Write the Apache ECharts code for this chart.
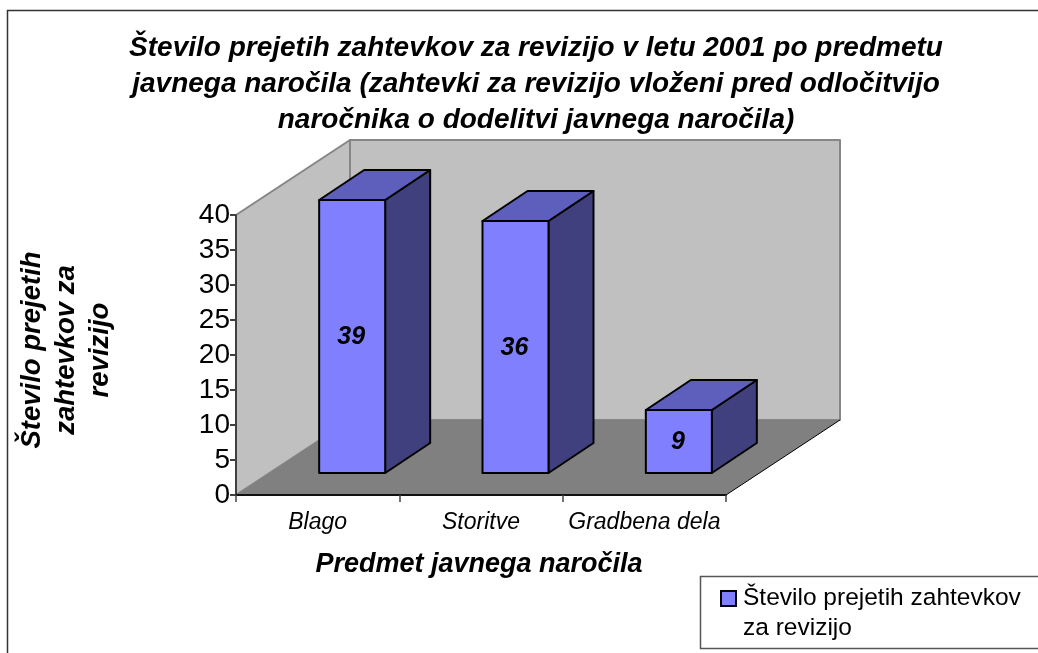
<!DOCTYPE html>
<html><head><meta charset="utf-8">
<style>html,body{margin:0;padding:0;background:#fff}#c{width:1038px;height:653px}</style>
<script src="https://cdn.jsdelivr.net/npm/echarts@6/dist/echarts.min.js"></script>
</head><body><div id="c"></div>
<script>
var categories = ['Blago', 'Storitve', 'Gradbena dela'];
var seriesName = 'Število prejetih zahtevkov za revizijo';
var legendLines = ['Število prejetih zahtevkov', 'za revizijo'];
var seriesValues = [39, 36, 9];
var yTicks = [0, 40, 5];
var titleText = 'Število prejetih zahtevkov za revizijo v letu 2001 po predmetu\njavnega naročila (zahtevki za revizijo vloženi pred odločitvijo\nnaročnika o dodelitvi javnega naročila)';
var xName = 'Predmet javnega naročila';
var yName = 'Število prejetih\nzahtevkov za\nrevizijo';

var F = 'Liberation Sans';
var DX = 114, DY = -75;           // depth of the chart box
var BDX = 45, BDY = -30;          // depth of a bar
var OX = 32.5, OY = -22;          // bar front offset into the box
var BAR_W = 66;

var chart = echarts.init(document.getElementById('c'), null, {renderer: 'canvas'});

function poly(points, fill, stroke, lw) {
  return {type: 'polygon', shape: {points: points},
    style: {fill: fill, stroke: stroke || null, lineWidth: lw || 0, lineJoin: 'round'}};
}
function renderBox(params, api) {
  var n = categories.length;
  var p00 = api.coord([0, yTicks[0]]);
  var band = api.size([1, 0])[0];
  var x0 = p00[0] - band / 2, x1 = x0 + band * n, y0 = p00[1];
  var yt = api.coord([0, yTicks[1]])[1];
  return {type: 'group', children: [
    poly([[x0 + DX, yt + DY], [x1 + DX, yt + DY], [x1 + DX, y0 + DY], [x0 + DX, y0 + DY]], '#c0c0c0', '#868686', 2),
    poly([[x0, yt], [x0 + DX, yt + DY], [x0 + DX, y0 + DY], [x0, y0]], '#c0c0c0', '#868686', 2),
    poly([[x0, y0], [x0 + DX, y0 + DY], [x1 + DX, y0 + DY], [x1, y0]], '#808080', null, 0),
    {type: 'line', shape: {x1: x1, y1: y0, x2: x1 + DX, y2: y0 + DY}, style: {stroke: '#000', lineWidth: 1}}
  ]};
}
function renderBar(params, api) {
  var c = api.coord([api.value(0), api.value(1)]);
  var b = api.coord([api.value(0), 0]);
  var l = c[0] - BAR_W / 2 + OX + 2, r = l + BAR_W;
  var t = c[1] + OY, g = b[1] + OY;
  var sc = '#000', lw = 2;
  return {type: 'group', children: [
    poly([[r, t], [r + BDX, t + BDY], [r + BDX, g + BDY], [r, g]], '#40407f', sc, lw),
    poly([[l, t], [l + BDX, t + BDY], [r + BDX, t + BDY], [r, t]], '#5e5ebc', sc, lw),
    poly([[l, t], [r, t], [r, g], [l, g]], '#8080ff', sc, lw),
    {type: 'text', style: {text: String(api.value(1)), x: (l + r) / 2 - 1, y: (t + g) / 2 + 1, align: 'center', verticalAlign: 'middle',
      font: 'italic bold 25px "' + F + '"', fill: '#000'}}
  ]};
}

chart.setOption({
  animation: false,
  backgroundColor: '#fff',
  grid: {left: 236, right: 312, top: 215, bottom: 158, containLabel: false, outerBoundsMode: 'none'},
  title: {
    text: titleText, left: 531, top: 25, textAlign: 'center',
    textStyle: {fontFamily: F, fontStyle: 'italic', fontWeight: 'bold', fontSize: 28, lineHeight: 36, color: '#000'}
  },
  xAxis: {
    type: 'category', data: categories, name: xName, nameLocation: 'middle', nameGap: 56, z: 10,
    nameTextStyle: {fontFamily: F, fontStyle: 'italic', fontWeight: 'bold', fontSize: 27, color: '#000', padding: [0, 4, 0, 0]},
    boundaryGap: true,
    axisLine: {show: true, lineStyle: {color: '#111', width: 2}},
    axisTick: {show: true, length: 7, lineStyle: {color: '#444', width: 1.5}},
    axisLabel: {fontFamily: F, fontStyle: 'italic', fontSize: 23, color: '#000', margin: 16, interval: 0},
    splitLine: {show: false}
  },
  yAxis: {
    type: 'value', min: yTicks[0], max: yTicks[1], interval: yTicks[2], z: 10,
    name: yName, nameLocation: 'middle', nameRotate: 90, nameGap: 119,
    nameTextStyle: {fontFamily: F, fontStyle: 'italic', fontWeight: 'bold', fontSize: 27.5, lineHeight: 34, color: '#000', padding: [0, 0, 0, 10]},
    axisLine: {show: true, lineStyle: {color: '#404040', width: 2}},
    axisTick: {show: true, length: 6, lineStyle: {color: '#404040', width: 2}},
    axisLabel: {fontFamily: F, fontSize: 28, color: '#000', margin: 6, padding: [2, 0, 0, 0]},
    splitLine: {show: false}
  },
  legend: {
    show: true, left: 720, top: 586, padding: [0, 0, 0, 0], orient: 'vertical', itemWidth: 15, itemHeight: 15, itemGap: 0,
    data: [{name: seriesName, icon: 'rect', itemStyle: {color: '#8080ff', borderColor: '#000', borderWidth: 2}}],
    formatter: function () { return legendLines[0]; },
    textStyle: {fontFamily: F, fontSize: 24.5, color: '#000', padding: [0, 0, 0, 2]}
  },
  graphic: [
    {type: 'rect', z: -10, silent: true, shape: {x: 7.5, y: 10.5, width: 1200, height: 800},
      style: {fill: 'none', stroke: '#333', lineWidth: 1.5}},
    {type: 'rect', z: -9, silent: true, shape: {x: 700.5, y: 576.5, width: 500, height: 72},
      style: {fill: '#fff', stroke: '#555', lineWidth: 1.5}},
    {type: 'text', z: 10, silent: true, x: 743, y: 616,
      style: {text: legendLines[1], font: '24.5px "' + F + '"', fill: '#000'}}
  ],
  series: [
    {type: 'custom', name: 'box', silent: true, data: [[0, 0]], renderItem: renderBox, z: 1,
      encode: {x: 0, y: 1}, tooltip: {show: false}, clip: false},
    {type: 'custom', name: seriesName, data: categories.map(function (c, i) { return [i, seriesValues[i]]; }),
      renderItem: renderBar, z: 2, encode: {x: 0, y: 1}, clip: false, itemStyle: {color: '#8080ff'}}
  ]
});
</script></body></html>
